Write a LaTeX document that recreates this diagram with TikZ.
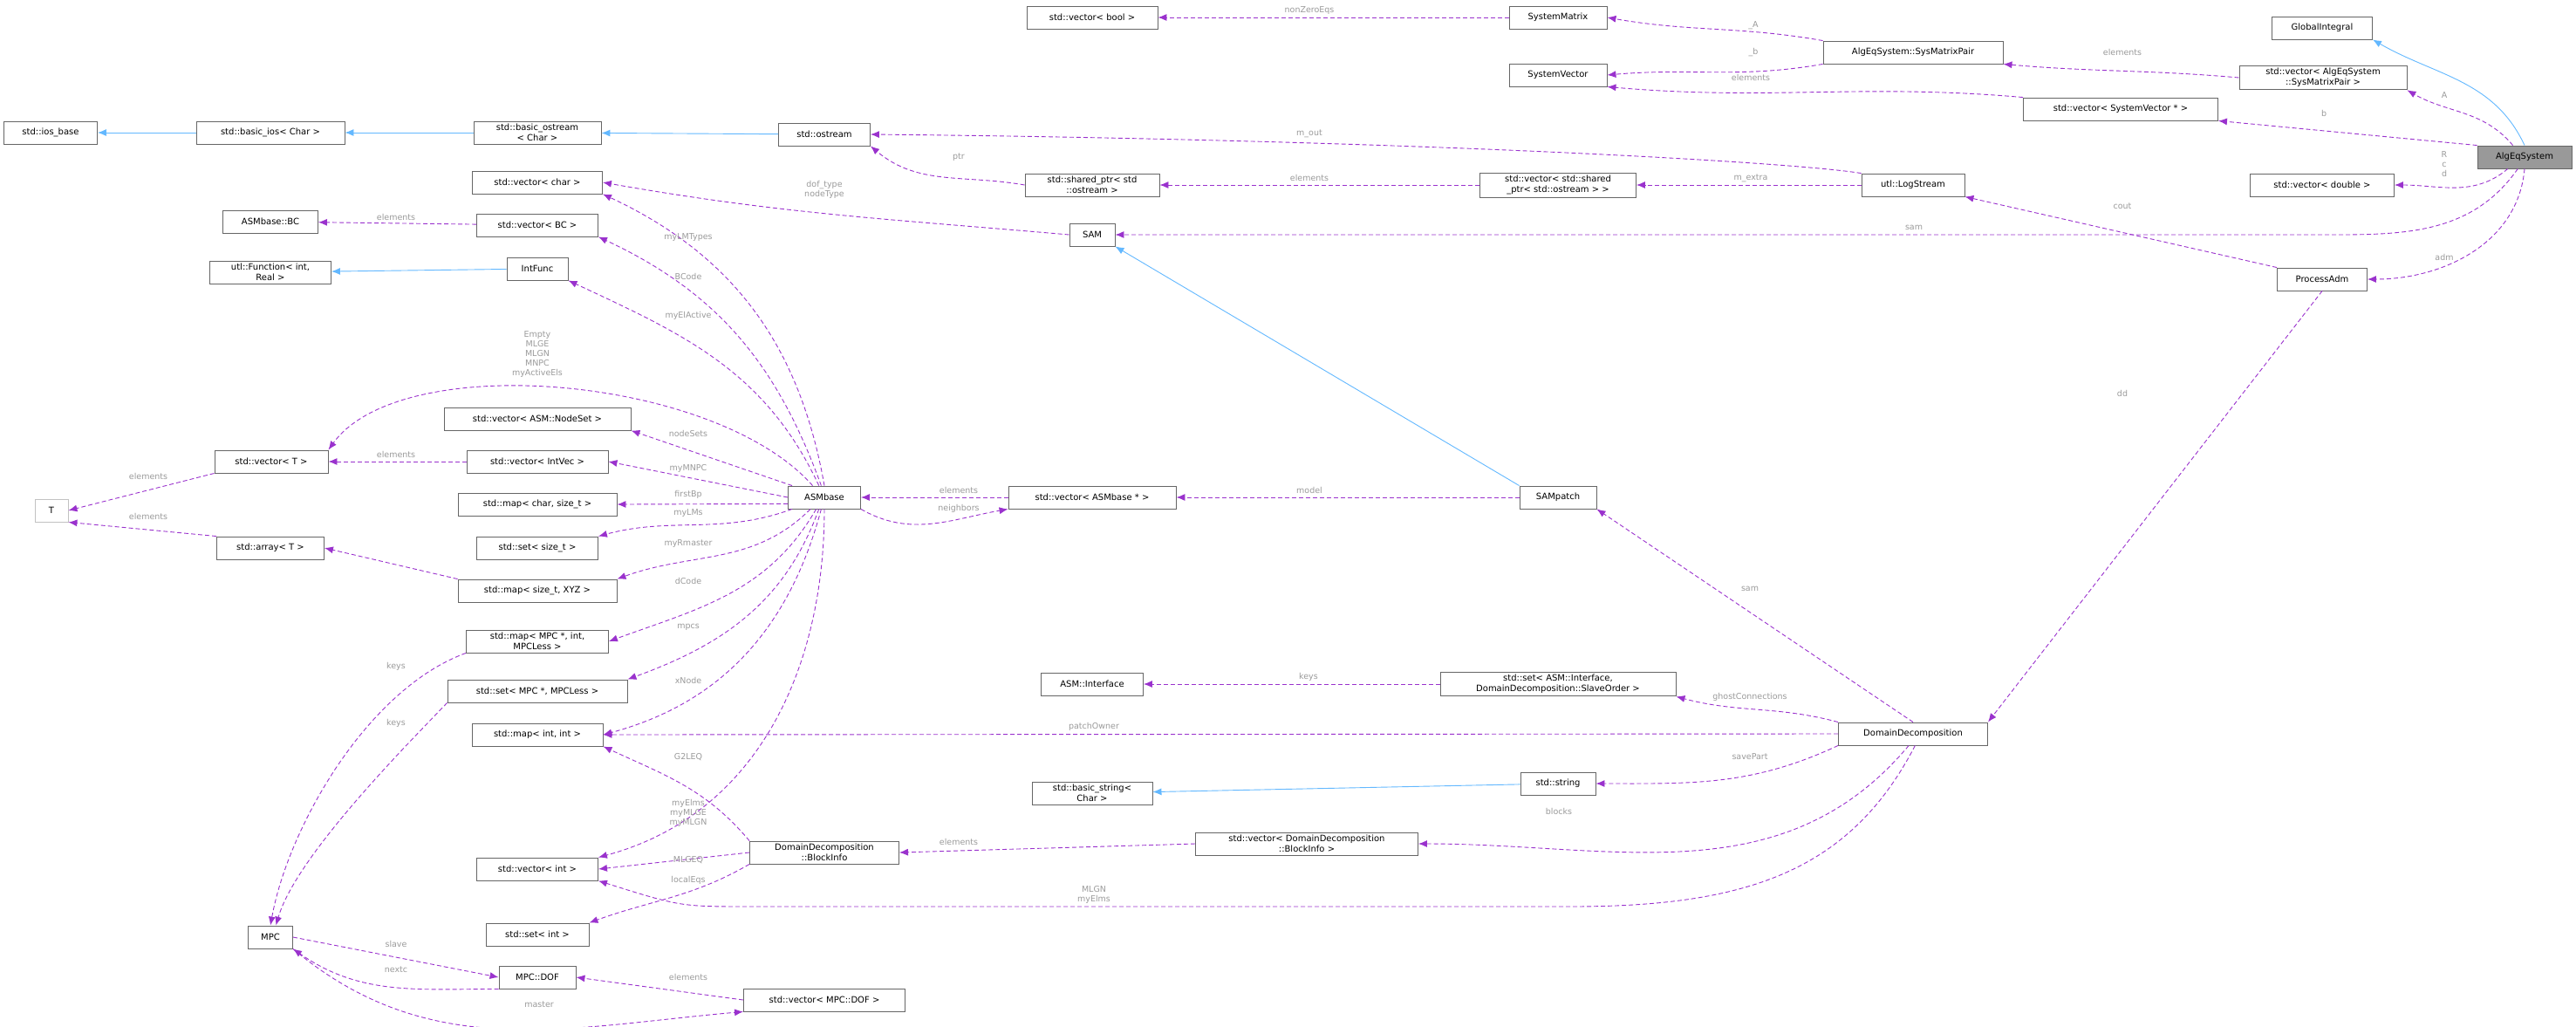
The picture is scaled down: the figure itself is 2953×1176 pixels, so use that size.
\documentclass[tikz,border=0pt]{standalone}
\usepackage{fontspec}
\setmainfont{DejaVu Sans}
\usetikzlibrary{arrows.meta}
\definecolor{pur}{HTML}{9A32CD}
\definecolor{blu}{HTML}{63B8FF}
\definecolor{lab}{HTML}{9A9A9A}
\definecolor{bord}{HTML}{666666}
\begin{document}
\begin{tikzpicture}[x=1pt,y=-1pt,
  box/.style={draw=bord,line width=0.9pt,fill=white,inner sep=3pt,minimum height=26pt,font=\fontsize{10}{12}\selectfont,align=center},
  lbl/.style={text=lab,font=\fontsize{9.5}{11}\selectfont,align=center,inner sep=0pt},
  use/.style={draw=pur,line width=0.9pt,dash pattern=on 5pt off 3pt,-{Latex[length=10pt,width=8pt]}},
  inh/.style={draw=blu,line width=0.9pt,-{Latex[length=10pt,width=8pt]}}]
\useasboundingbox (0,0) rectangle (2953,1176);
% nodes
\node[box,minimum width=107pt] (iosb) at (58,152) {std::ios\_base};
\node[box,minimum width=170pt] (bios) at (310,152) {std::basic\_ios\textless{} Char \textgreater{}};
\node[box,minimum width=146pt] (bost) at (616,152) {std::basic\_ostream\\\textless{} Char \textgreater{}};
\node[box,minimum width=105pt] (ost) at (945,154) {std::ostream};
\node[box,minimum width=149pt] (vchar) at (616,209) {std::vector\textless{} char \textgreater{}};
\node[box,minimum width=109pt] (bc) at (310,254) {ASMbase::BC};
\node[box,minimum width=139pt] (vbc) at (616,258) {std::vector\textless{} BC \textgreater{}};
\node[box,minimum width=139pt] (ufun) at (310,312) {utl::Function\textless{} int,\\Real \textgreater{}};
\node[box,minimum width=70pt] (ifun) at (616,308) {IntFunc};
\node[box,minimum width=214pt] (vns) at (616,480) {std::vector\textless{} ASM::NodeSet \textgreater{}};
\node[box,minimum width=130pt] (vT) at (311,529) {std::vector\textless{} T \textgreater{}};
\node[box,minimum width=162pt] (viv) at (616,529) {std::vector\textless{} IntVec \textgreater{}};
\node[box,draw=lab!60,minimum width=38pt] (T) at (59,585) {T};
\node[box,minimum width=182pt] (mcs) at (616,578) {std::map\textless{} char, size\_t \textgreater{}};
\node[box,minimum width=83pt] (asm) at (945,570) {ASMbase};
\node[box,minimum width=139pt] (ssz) at (616,628) {std::set\textless{} size\_t \textgreater{}};
\node[box,minimum width=123pt] (arr) at (310,628) {std::array\textless{} T \textgreater{}};
\node[box,minimum width=182pt] (mxyz) at (616,677) {std::map\textless{} size\_t, XYZ \textgreater{}};
\node[box,minimum width=163pt] (mmpc) at (616,735) {std::map\textless{} MPC *, int,\\MPCLess \textgreater{}};
\node[box,minimum width=206pt] (smpc) at (616,792) {std::set\textless{} MPC *, MPCLess \textgreater{}};
\node[box,minimum width=150pt] (mii) at (616,842) {std::map\textless{} int, int \textgreater{}};
\node[box,minimum width=171pt] (binfo) at (945,977) {DomainDecomposition\\::BlockInfo};
\node[box,minimum width=139pt] (vint) at (616,996) {std::vector\textless{} int \textgreater{}};
\node[box,minimum width=118pt] (sint) at (616,1071) {std::set\textless{} int \textgreater{}};
\node[box,minimum width=51pt] (mpc) at (310,1074) {MPC};
\node[box,minimum width=88pt] (dof) at (616,1120) {MPC::DOF};
\node[box,minimum width=185pt] (vdof) at (945,1146) {std::vector\textless{} MPC::DOF \textgreater{}};
\node[box,minimum width=150pt] (vbool) at (1252,20) {std::vector\textless{} bool \textgreater{}};
\node[box,minimum width=112pt] (smat) at (1786,20) {SystemMatrix};
\node[box,minimum width=112pt] (svec) at (1786,86) {SystemVector};
\node[box,minimum width=154pt] (shp) at (1252,212) {std::shared\_ptr\textless{} std\\::ostream \textgreater{}};
\node[box,minimum width=179pt] (vshp) at (1786,212) {std::vector\textless{} std::shared\\\_ptr\textless{} std::ostream \textgreater{} \textgreater{}};
\node[box,minimum width=52pt] (sam) at (1252,269) {SAM};
\node[box,minimum width=192pt] (vasm) at (1252,570) {std::vector\textless{} ASMbase * \textgreater{}};
\node[box,minimum width=88pt] (samp) at (1786,570) {SAMpatch};
\node[box,minimum width=115pt] (gi) at (2662,32) {GlobalIntegral};
\node[box,minimum width=206pt] (smp) at (2193,60) {AlgEqSystem::SysMatrixPair};
\node[box,minimum width=192pt] (vsmp) at (2663,89) {std::vector\textless{} AlgEqSystem\\::SysMatrixPair \textgreater{}};
\node[box,minimum width=223pt] (vsv) at (2431,125) {std::vector\textless{} SystemVector * \textgreater{}};
\node[box,fill=black!40,minimum width=108pt] (alg) at (2894,180) {AlgEqSystem};
\node[box,minimum width=118pt] (log) at (2193,212) {utl::LogStream};
\node[box,minimum width=165pt] (vdbl) at (2662,212) {std::vector\textless{} double \textgreater{}};
\node[box,minimum width=103pt] (padm) at (2662,320) {ProcessAdm};
\node[box,minimum width=117pt] (iface) at (1252,784) {ASM::Interface};
\node[box,minimum width=270pt] (siface) at (1786,784) {std::set\textless{} ASM::Interface,\\DomainDecomposition::SlaveOrder \textgreater{}};
\node[box,minimum width=171pt] (dd) at (2193,841) {DomainDecomposition};
\node[box,minimum width=138pt] (bstr) at (1252,909) {std::basic\_string\textless{}\\Char \textgreater{}};
\node[box,minimum width=86pt] (str) at (1786,898) {std::string};
\node[box,minimum width=255pt] (vbi) at (1498,967) {std::vector\textless{} DomainDecomposition\\::BlockInfo \textgreater{}};
% inheritance
\draw[inh] (bios) -- (iosb);
\draw[inh] (bost) -- (bios);
\draw[inh] (ost) -- (bost);
\draw[inh] (ifun) -- (ufun);
\draw[inh] (samp.north west) -- (sam.south east);
\draw[inh] (str) -- (bstr);
\draw[inh] (alg.north) to[out=115,in=-30] (gi.south east);
% usage edges, top right
\draw[use] (smat) -- (vbool);
\draw[use] (smp.north west) to[out=170,in=-10] (smat.east);
\draw[use] (smp.south west) to[out=190,in=5] (svec.east);
\draw[use] (vsv.north west) to[out=175,in=-5] (svec.south east);
\draw[use] (vsmp.west) to[out=175,in=-5] (smp.south east);
\draw[use] (alg.135) to[out=130,in=-30] (vsmp.south east);
\draw[use] (alg.north west) -- (vsv.south east);
\draw[use] (alg.215) to[out=-140,in=0] (vdbl.east);
\draw[use] (alg.240) to[out=-125,in=0] (2650,269) -- (sam.east);
\draw[use] (alg.south) to[out=-95,in=0] (padm.east);
\draw[use] (log.north west) .. controls (2050,185) and (1600,160) .. (ost.east);
\draw[use] (log) -- (vshp);
\draw[use] (vshp) -- (shp);
\draw[use] (shp.west) to[out=170,in=-40] (ost.south east);
\draw[use] (padm.north west) -- (log.south east);
\draw[use] (padm.south) -- (dd.north east);
\draw[use] (sam.west) to[out=175,in=-10] (vchar.east);
\draw[use] (samp) -- (vasm);
\draw[use] (vasm) -- (asm);
\draw[use] (asm.south east) to[out=-30,in=-170] (vasm.south west);
% DomainDecomposition
\draw[use] (dd.north) -- (samp.south east);
\draw[use] (dd.north west) to[out=165,in=-15] (siface.south east);
\draw[use] (siface) -- (iface);
\draw[use] (dd.west) -- (mii.east);
\draw[use] (dd.south west) to[out=-155,in=0] (str.east);
\draw[use] (dd.250) to[out=-130,in=0] (vbi.east);
\draw[use] (dd.280) .. controls (2120,1000) and (2000,1039) .. (1800,1039) -- (860,1039) .. controls (780,1039) .. (vint.south east);
\draw[use] (vbi.west) -- (binfo.east);
\draw[use] (binfo.north west) to[out=130,in=-25] (mii.south east);
\draw[use] (binfo.west) -- (vint.east);
\draw[use] (binfo.south west) to[out=-150,in=20] (sint.north east);
% ASMbase edges
\draw[use] (asm.north) to[out=100,in=-25] (vchar.south east);
\draw[use] (asm.105) to[out=110,in=-25] (vbc.south east);
\draw[use] (asm.115) to[out=115,in=-25] (ifun.south east);
\draw[use] (asm.135) .. controls (820,430) and (460,400) .. (vT.north east);
\draw[use] (asm.160) -- (vns.south east);
\draw[use] (asm.west) -- (viv.east);
\draw[use] (asm.190) -- (mcs.east);
\draw[use] (asm.200) to[out=-160,in=15] (ssz.north east);
\draw[use] (asm.220) to[out=-135,in=20] (mxyz.north east);
\draw[use] (asm.235) to[out=-120,in=20] (mmpc.east);
\draw[use] (asm.245) to[out=-110,in=20] (smpc.north east);
\draw[use] (asm.255) to[out=-105,in=15] (mii.east);
\draw[use] (asm.270) to[out=-90,in=15] (vint.north east);
% left column
\draw[use] (vbc) -- (bc);
\draw[use] (viv) -- (vT);
\draw[use] (vT.south west) -- (T.east);
\draw[use] (arr.north west) -- (T.south east);
\draw[use] (mxyz.north west) -- (arr.east);
\draw[use] (mmpc.south west) .. controls (420,790) and (330,950) .. (mpc.north);
\draw[use] (smpc.south west) .. controls (470,850) and (340,980) .. (mpc.65);
\draw[use] (mpc.east) -- (dof.west);
\draw[use] (dof.south west) to[out=180,in=-35] (mpc.south east);
\draw[use] (vdof.west) -- (dof.east);
\draw[use] (mpc.south east) to[out=-40,in=185] (vdof.south west);
% labels
\node[lbl] (l1) at (1501,12) {nonZeroEqs};
\node[lbl] (l2) at (2010,29) {\_A};
\node[lbl] (l3) at (2010,60) {\_b};
\node[lbl] (l4) at (2007,89) {elements};
\node[lbl] (l5) at (2433,60) {elements};
\node[lbl] (l6) at (2802,109) {A};
\node[lbl] (l7) at (2664,130) {b};
\node[lbl] (l8) at (2802,188) {R\\c\\d};
\node[lbl] (l9) at (2007,204) {m\_extra};
\node[lbl] (l10) at (2433,236) {cout};
\node[lbl] (l11) at (2194,261) {sam};
\node[lbl] (l12) at (2802,295) {adm};
\node[lbl] (l13) at (2433,451) {dd};
\node[lbl] (l14) at (1501,153) {m\_out};
\node[lbl] (l15) at (1099,180) {ptr};
\node[lbl] (l16) at (1501,204) {elements};
\node[lbl] (l17) at (1099,562) {elements};
\node[lbl] (l18) at (1099,583) {neighbors};
\node[lbl] (l19) at (1501,562) {model};
\node[lbl] (l20) at (945,217) {dof\_type\\nodeType};
\node[lbl] (l21) at (789,272) {myLMTypes};
\node[lbl] (l22) at (789,317) {BCode};
\node[lbl] (l23) at (789,362) {myElActive};
\node[lbl] (l24) at (616,406) {Empty\\MLGE\\MLGN\\MNPC\\myActiveEls};
\node[lbl] (l25) at (789,497) {nodeSets};
\node[lbl] (l26) at (789,537) {myMNPC};
\node[lbl] (l27) at (789,567) {firstBp};
\node[lbl] (l28) at (454,249) {elements};
\node[lbl] (l29) at (454,521) {elements};
\node[lbl] (l30) at (170,546) {elements};
\node[lbl] (l31) at (170,592) {elements};
\node[lbl] (l32) at (789,588) {myLMs};
\node[lbl] (l33) at (789,623) {myRmaster};
\node[lbl] (l34) at (789,666) {dCode};
\node[lbl] (l35) at (789,719) {mpcs};
\node[lbl] (l36) at (789,780) {xNode};
\node[lbl] (l37) at (789,868) {G2LEQ};
\node[lbl] (l38) at (789,932) {myElms\\myMLGE\\myMLGN};
\node[lbl] (l39) at (789,986) {MLGEQ};
\node[lbl] (l40) at (789,1009) {localEqs};
\node[lbl] (l41) at (454,764) {keys};
\node[lbl] (l42) at (454,829) {keys};
\node[lbl] (l43) at (454,1082) {slave};
\node[lbl] (l44) at (454,1111) {nextc};
\node[lbl] (l45) at (789,1120) {elements};
\node[lbl] (l46) at (618,1151) {master};
\node[lbl] (l47) at (2006,675) {sam};
\node[lbl] (l48) at (1500,776) {keys};
\node[lbl] (l49) at (2006,799) {ghostConnections};
\node[lbl] (l50) at (1254,833) {patchOwner};
\node[lbl] (l51) at (2006,867) {savePart};
\node[lbl] (l52) at (1787,930) {blocks};
\node[lbl] (l53) at (1099,965) {elements};
\node[lbl] (l54) at (1254,1025) {MLGN\\myElms};
\end{tikzpicture}
\end{document}
